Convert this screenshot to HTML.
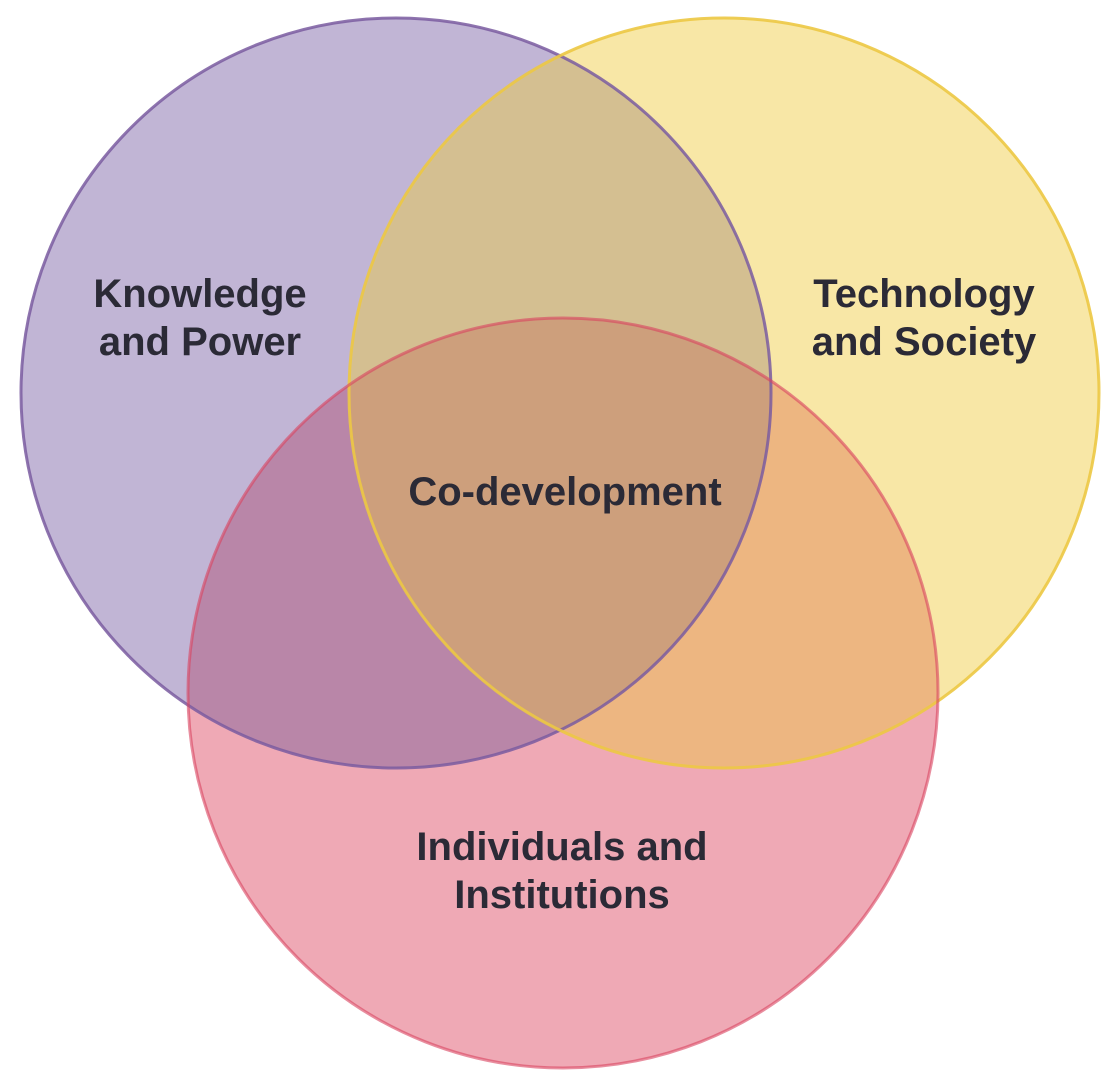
<!DOCTYPE html>
<html><head><meta charset="utf-8"><style>
html,body{margin:0;padding:0;background:#fff;}
svg{display:block;}
text{font-family:"Liberation Sans",sans-serif;font-weight:bold;font-size:40px;fill:#2b2a36;text-anchor:middle;}
</style></head><body>
<svg width="1117" height="1085" viewBox="0 0 1117 1085">
<defs>
<clipPath id="cp"><circle cx="396" cy="393" r="375"/></clipPath>
<clipPath id="cy"><circle cx="724" cy="393" r="375"/></clipPath>
<clipPath id="cr"><circle cx="563" cy="693" r="375"/></clipPath>
</defs>
<rect width="1117" height="1085" fill="#fff"/>
<circle cx="396" cy="393" r="375" fill="#c1b5d5"/>
<circle cx="724" cy="393" r="375" fill="#f8e7a6"/>
<circle cx="563" cy="693" r="375" fill="#efa9b5"/>
<g clip-path="url(#cp)">
  <circle cx="724" cy="393" r="375" fill="#d4bf91"/>
  <circle cx="563" cy="693" r="375" fill="#b986a8"/>
</g>
<g clip-path="url(#cy)">
  <circle cx="563" cy="693" r="375" fill="#edb681"/>
  <g clip-path="url(#cp)"><circle cx="563" cy="693" r="375" fill="#cd9f7c"/></g>
</g>
<circle cx="396" cy="393" r="375" fill="none" stroke="#7a5ca0" stroke-width="3" stroke-opacity="0.85"/>
<circle cx="724" cy="393" r="375" fill="none" stroke="#ecc844" stroke-width="3" stroke-opacity="0.9"/>
<circle cx="563" cy="693" r="375" fill="none" stroke="#d9435f" stroke-width="3" stroke-opacity="0.6"/>
<text x="200" y="307">Knowledge</text>
<text x="200" y="355">and Power</text>
<text x="924" y="307">Technology</text>
<text x="924" y="355">and Society</text>
<text x="565" y="505">Co-development</text>
<text x="562" y="860">Individuals and</text>
<text x="562" y="908">Institutions</text>
</svg>
</body></html>
